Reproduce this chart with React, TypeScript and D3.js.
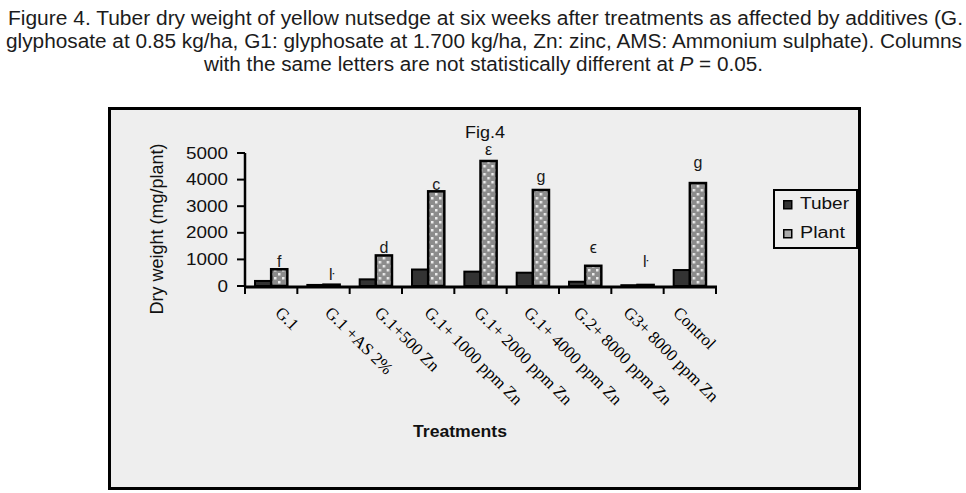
import * as d3 from 'd3';

// values (mg/plant)
const categories = [
  'G.1',
  'G.1 +AS 2%',
  'G.1+500 Zn',
  'G.1+ 1000 ppm Zn',
  'G.1+ 2000 ppm Zn',
  'G.1+ 4000 ppm Zn',
  'G.2+ 8000 ppm Zn',
  'G3+ 8000 ppm Zn',
  'Control',
];
const tuber = [190, 40, 250, 620, 540, 500, 160, 30, 600];
const plant = [630, 50, 1150, 3560, 4700, 3610, 760, 40, 3870];
const letters = ['f', 'ŀ', 'd', 'c', 'ε', 'g', 'ϵ', 'ŀ', 'g'];
// where each letter's baseline sits, in mg/plant
const letterAt = [700, 230, 1230, 3620, 4920, 3900, 1240, 720, 4430];
const yTicks = [0, 1000, 2000, 3000, 4000, 5000];
const seriesNames = ['Tuber', 'Plant'];

const W = 966;
const H = 493;

export default function App() {
  const x = d3.scaleBand<string>().domain(categories).range([245, 716]);
  const sub = d3
    .scaleBand<string>()
    .domain(seriesNames)
    .range([0, x.bandwidth()])
    .paddingOuter(0.62);
  const y = d3.scaleLinear().domain([0, 5000]).range([286, 153]);
  // the tick labels sit on a slightly tighter spacing than the bars
  const xLabel = d3.scalePoint<string>().domain(categories).range([283, 681]);

  const rows = categories.map((c, i) => ({ c, tuber: tuber[i], plant: plant[i] }));

  return (
    <svg
      width={W}
      height={H}
      style={{ position: 'absolute', left: 0, top: 0, background: '#fff' }}
      fontFamily="'Liberation Sans', Arial, sans-serif"
    >
      <defs>
        <pattern id="dots" width="8" height="8" patternUnits="userSpaceOnUse">
          <rect width="8" height="8" fill="#8c8c8c" />
          <rect x="1" y="1" width="2.5" height="2.5" fill="#ececec" />
          <rect x="5" y="5" width="2.5" height="2.5" fill="#ececec" />
        </pattern>
      </defs>

      {/* caption */}
      <g fontSize={20} fill="#1c1c1c">
        <text x={8} y={25} textLength={955} lengthAdjust="spacingAndGlyphs">
          Figure 4. Tuber dry weight of yellow nutsedge at six weeks after treatments as affected by additives (G.
        </text>
        <text x={6} y={48} textLength={956} lengthAdjust="spacingAndGlyphs">
          glyphosate at 0.85 kg/ha, G1: glyphosate at 1.700 kg/ha, Zn: zinc, AMS: Ammonium sulphate). Columns
        </text>
        <text x={204} y={71} textLength={559} lengthAdjust="spacingAndGlyphs">
          with the same letters are not statistically different at <tspan fontStyle="italic">P</tspan> = 0.05.
        </text>
      </g>

      {/* chart area frame */}
      <rect x={109.5} y={108.5} width={750} height={380} fill="#eeeeee" stroke="#000" strokeWidth={3} />

      <text x={485} y={138} fontSize={16} textAnchor="middle" fill="#111" textLength={40} lengthAdjust="spacingAndGlyphs">
        Fig.4
      </text>

      {/* y axis */}
      <line x1={245} x2={245} y1={y(5000)} y2={y(0) + 1} stroke="#000" strokeWidth={2.5} />
      {yTicks.map((t) => (
        <g key={t}>
          <line x1={237} x2={245} y1={y(t)} y2={y(t)} stroke="#000" strokeWidth={2} />
          <text
            x={228}
            y={y(t) + 5.5}
            fontSize={16}
            textAnchor="end"
            fill="#111"
            textLength={String(t).length * 10.5}
            lengthAdjust="spacingAndGlyphs"
          >
            {t}
          </text>
        </g>
      ))}
      <text
        transform="translate(163,229) rotate(-90)"
        fontSize={18}
        textAnchor="middle"
        fill="#111"
      >
        Dry weight (mg/plant)
      </text>

      {/* bars */}
      {rows.map((r) => (
        <g key={r.c} transform={`translate(${x(r.c)},0)`}>
          <rect
            x={sub('Tuber')}
            y={y(r.tuber)}
            width={sub.bandwidth()}
            height={y(0) - y(r.tuber)}
            fill="#333"
            stroke="#000"
            strokeWidth={2}
          />
          <rect
            x={sub('Plant')}
            y={y(r.plant)}
            width={sub.bandwidth()}
            height={y(0) - y(r.plant)}
            fill="url(#dots)"
            stroke="#000"
            strokeWidth={2.5}
          />
        </g>
      ))}

      {/* significance letters */}
      {categories.map((c, i) => (
        <text
          key={c}
          x={(x(c) ?? 0) + (sub('Plant') ?? 0) + sub.bandwidth() / 2}
          y={y(letterAt[i])}
          fontSize={16}
          textAnchor="middle"
          fill="#1a1a1a"
        >
          {letters[i]}
        </text>
      ))}

      {/* x axis */}
      <line x1={244} x2={717} y1={y(0) + 1} y2={y(0) + 1} stroke="#000" strokeWidth={3} />
      {[...categories.map((c) => x(c) ?? 0), 716].map((px, i) => (
        <line key={i} x1={px} x2={px} y1={y(0)} y2={y(0) + 8} stroke="#000" strokeWidth={2} />
      ))}
      {categories.map((c) => (
        <text
          key={c}
          transform={`translate(${xLabel(c)},305) rotate(45)`}
          dy="0.72em"
          fontFamily="'Liberation Serif', 'Times New Roman', serif"
          fontSize={17}
          fill="#000"
        >
          {c}
        </text>
      ))}
      <text x={460} y={437} fontSize={16} fontWeight="bold" textAnchor="middle" fill="#111" textLength={94} lengthAdjust="spacingAndGlyphs">
        Treatments
      </text>

      {/* legend */}
      <rect x={774} y={190} width={83} height={58} fill="#eeeeee" stroke="#000" strokeWidth={2} />
      {seriesNames.map((s, i) => (
        <g key={s} transform={`translate(783,${200 + i * 29})`}>
          <rect
            x={0.75}
            y={0.75}
            width={8}
            height={8}
            fill={s === 'Tuber' ? '#333' : '#aaa'}
            stroke="#000"
            strokeWidth={1.5}
          />
          <text x={17} y={9} fontSize={16} fill="#111" textLength={s === 'Tuber' ? 49 : 45} lengthAdjust="spacingAndGlyphs">
            {s}
          </text>
        </g>
      ))}
    </svg>
  );
}
